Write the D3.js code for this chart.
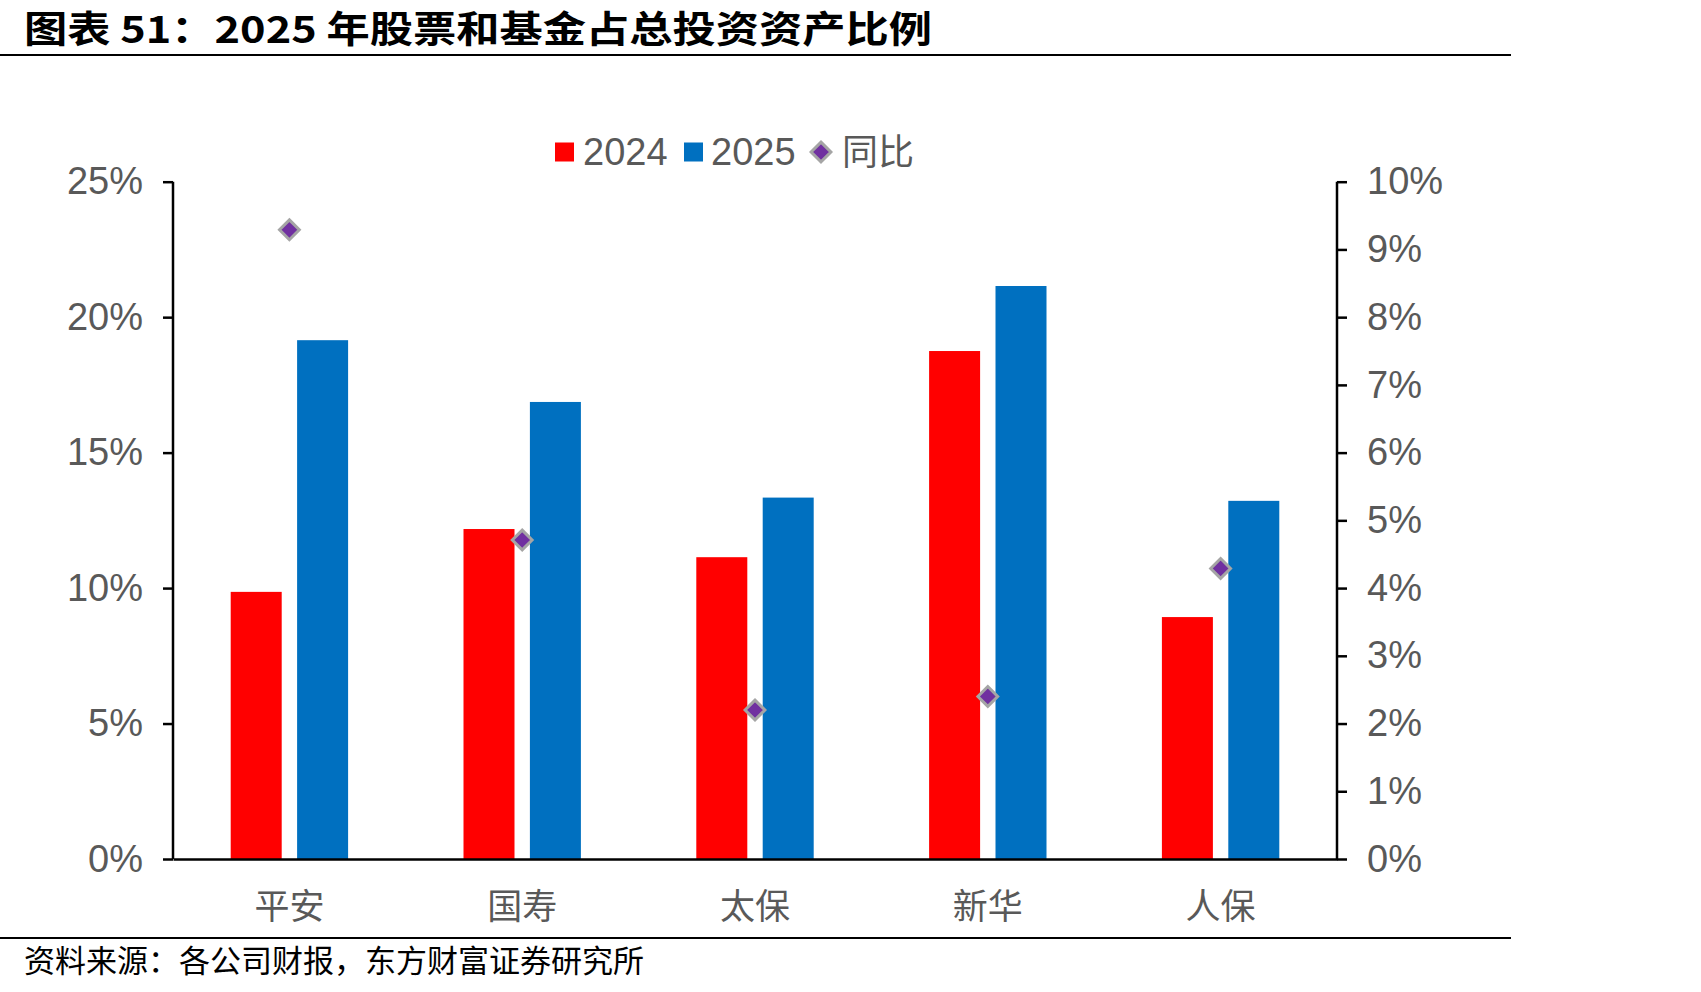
<!DOCTYPE html>
<html>
<head>
<meta charset="utf-8">
<script src="https://cdn.jsdelivr.net/npm/d3@7"></script>
<style>
  body { margin: 0; background: #fff; }
  svg text { font-family: "Liberation Sans", Arial, "Noto Sans CJK SC", sans-serif; }
  .cjk { font-family: "Noto Sans CJK SC", sans-serif !important; }
</style>
</head>
<body>
<div id="chart"></div>
<script>
// 1: DATA
const companies = ["平安", "国寿", "太保", "新华", "人保"];
const share2024 = [9.86, 12.18, 11.14, 18.75, 8.93];   // % of total investment assets
const share2025 = [19.15, 16.87, 13.34, 21.15, 13.22];
const yoyChange = [9.29, 4.71, 2.20, 2.40, 4.29];       // right axis, pct points
const leftTicks = [0, 5, 10, 15, 20, 25];
const rightTicks = [0, 1, 2, 3, 4, 5, 6, 7, 8, 9, 10];

const W = 1701, H = 992;
const plot = { left: 173, right: 1337, top: 181.7, bottom: 859 };

const svg = d3.select("#chart").append("svg")
    .attr("width", W)
    .attr("height", H);

// 2: SCALES
const x = d3.scaleBand()
    .domain(companies)
    .range([plot.left, plot.right]);
const yLeft = d3.scaleLinear().domain([0, 25]).range([plot.bottom, plot.top]);
const yRight = d3.scaleLinear().domain([0, 10]).range([plot.bottom, plot.top]);

const barW = 51, gap = 15.4;
const series = [
    { name: "2024", values: share2024, color: "#FF0000", offset: -gap / 2 - barW },
    { name: "2025", values: share2025, color: "#0070C0", offset: gap / 2 }
];

// 3: BARS
series.forEach(s => {
    svg.append("g").selectAll("rect")
        .data(companies)
        .enter()
        .append("rect")
        .attr("x", d => x(d) + x.bandwidth() / 2 + s.offset)
        .attr("y", (d, i) => yLeft(s.values[i]))
        .attr("width", barW)
        .attr("height", (d, i) => plot.bottom - yLeft(s.values[i]))
        .attr("fill", s.color);
});

// 4: AXES
const leftAxis = svg.append("g")
    .attr("transform", `translate(${plot.left},0)`)
    .call(d3.axisLeft(yLeft).tickValues(leftTicks).tickSize(10).tickPadding(20)
        .tickFormat(d => d + "%"));
const rightAxis = svg.append("g")
    .attr("transform", `translate(${plot.right},0)`)
    .call(d3.axisRight(yRight).tickValues(rightTicks).tickSize(10).tickPadding(20)
        .tickFormat(d => d + "%"));
[leftAxis, rightAxis].forEach(a => {
    a.select(".domain").attr("stroke", "#000").attr("stroke-width", 2.5)
        .attr("d", `M0,${plot.top}V${plot.bottom}`);
    a.selectAll(".tick line").attr("stroke", "#000").attr("stroke-width", 2.5);
    a.selectAll(".tick text")
        .attr("fill", "#595959")
        .style("font-size", "38px");
});

// bottom axis: just the line plus category labels
const bottomAxis = svg.append("g")
    .attr("transform", `translate(0,${plot.bottom})`)
    .call(d3.axisBottom(x).tickSize(0).tickPadding(35));
bottomAxis.select(".domain").attr("stroke", "#000").attr("stroke-width", 2.5);
bottomAxis.selectAll(".tick text")
    .attr("class", "cjk")
    .attr("fill", "#595959")
    .style("font-size", "35px");

// 5: YOY DIAMONDS (right axis)
const diamond = d3.symbol().type(d3.symbolDiamond2).size(250);
svg.append("g").selectAll("path")
    .data(companies)
    .enter()
    .append("path")
    .attr("d", diamond)
    .attr("transform", (d, i) => `translate(${x(d) + x.bandwidth() / 2},${yRight(yoyChange[i])})`)
    .attr("fill", "#7030A0")
    .attr("stroke", "#A5A5A5")
    .attr("stroke-width", 3);

// 6: LEGEND
const legend = svg.append("g").attr("transform", "translate(0,152)");
legend.append("rect").attr("x", 555).attr("y", -9.5).attr("width", 19).attr("height", 19).attr("fill", "#FF0000");
legend.append("text").attr("x", 583).attr("y", 0).attr("dy", "0.35em")
    .attr("fill", "#595959").style("font-size", "38px").text("2024");
legend.append("rect").attr("x", 684).attr("y", -9.5).attr("width", 19).attr("height", 19).attr("fill", "#0070C0");
legend.append("text").attr("x", 711).attr("y", 0).attr("dy", "0.35em")
    .attr("fill", "#595959").style("font-size", "38px").text("2025");
legend.append("path").attr("d", diamond).attr("transform", "translate(821,0)")
    .attr("fill", "#7030A0").attr("stroke", "#A5A5A5").attr("stroke-width", 3);
legend.append("text").attr("class", "cjk").attr("x", 842).attr("y", 0).attr("dy", "0.35em")
    .attr("fill", "#595959").style("font-size", "36px").text("同比");

// 7: TITLE + SOURCE
svg.append("text")
    .attr("x", 24).attr("y", 43)
    .attr("class", "cjk")
    .attr("textLength", 908)
    .attr("lengthAdjust", "spacingAndGlyphs")
    .style("font-size", "37px")
    .style("font-weight", "bold")
    .attr("fill", "#000")
    .text("图表 51：2025 年股票和基金占总投资资产比例");
svg.append("line")
    .attr("x1", 0).attr("x2", 1511).attr("y1", 55).attr("y2", 55)
    .attr("stroke", "#000").attr("stroke-width", 2);
svg.append("line")
    .attr("x1", 0).attr("x2", 1511).attr("y1", 938).attr("y2", 938)
    .attr("stroke", "#000").attr("stroke-width", 2);
svg.append("text")
    .attr("class", "cjk")
    .attr("x", 24).attr("y", 961).attr("dy", "0.35em")
    .style("font-size", "31px")
    .attr("fill", "#000")
    .text("资料来源：各公司财报，东方财富证券研究所");
</script>
</body>
</html>
